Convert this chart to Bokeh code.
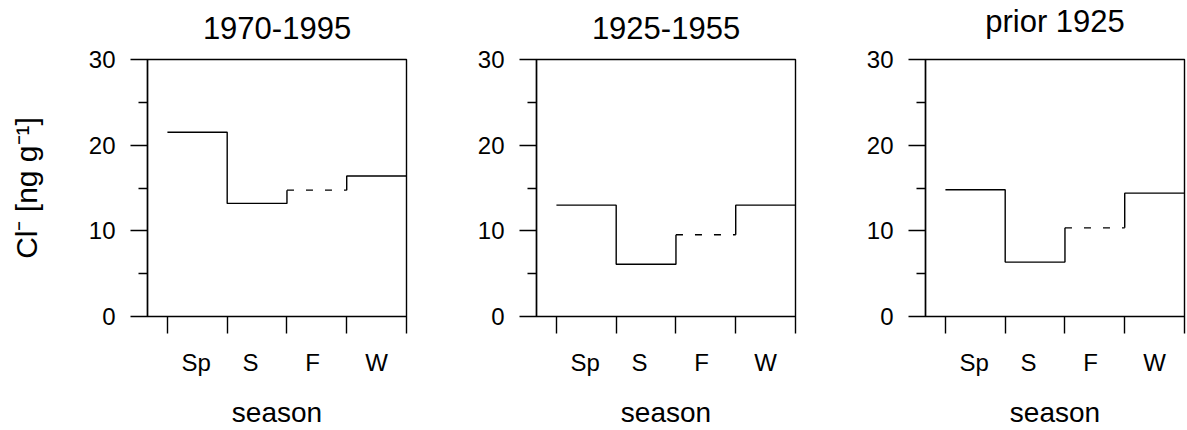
from bokeh.plotting import figure
from bokeh.layouts import row
from bokeh.models import FixedTicker, LinearAxis
from bokeh.embed import file_html
from bokeh.resources import INLINE

# ---- data ----
seasons = ["Sp", "S", "F", "W"]
season_edges = [0, 1, 2, 3, 4]
season_label_pos = [0.48, 1.39, 2.43, 3.5]
titles = ["1970-1995", "1925-1955", "prior 1925"]
cl_1970_1995 = [21.5, 13.2, 14.75, 16.4]
cl_1925_1955 = [13.0, 6.1, 9.55, 13.0]
cl_prior_1925 = [14.8, 6.35, 10.35, 14.4]
y_major = [0, 10, 20, 30]
y_minor = [5, 15, 25]
x_lo, x_hi = -1/3, 4
y_lo, y_hi = 0, 30

FONT = "Liberation Sans"
LW = 1.4
FRAME = 259
TOP = 58
BOTTOM = 113


def make_panel(title, vals, left_border, right_border, ylabel=None):
    p = figure(width=left_border + FRAME + right_border, height=TOP + FRAME + BOTTOM,
               x_range=(x_lo, x_hi), y_range=(y_lo, y_hi),
               output_backend="svg", toolbar_location=None,
               min_border_left=left_border, min_border_right=right_border,
               min_border_top=TOP, min_border_bottom=BOTTOM,
               x_axis_location="below", y_axis_location="left")
    p.title = None
    p.xgrid.visible = False
    p.ygrid.visible = False
    p.outline_line_color = "black"
    p.outline_line_width = LW
    p.background_fill_color = "white"
    p.border_fill_color = "white"

    xa = p.below[0]
    ya = p.left[0]

    # panel title drawn as the label of an otherwise empty axis above the frame
    top_axis = LinearAxis(ticker=FixedTicker(ticks=[]), axis_label=title,
                          axis_line_color=None, major_tick_line_color=None,
                          minor_tick_line_color=None, major_tick_out=0, major_tick_in=0,
                          minor_tick_out=0, minor_tick_in=0,
                          major_label_text_font_size="0px",
                          axis_label_text_font=FONT, axis_label_text_font_size="31px",
                          axis_label_text_font_style="normal",
                          axis_label_text_color="black", axis_label_standoff=21)
    p.add_layout(top_axis, "above")

    xa.ticker = FixedTicker(ticks=season_label_pos, minor_ticks=season_edges)
    xa.major_label_overrides = {pos: s for pos, s in zip(season_label_pos, seasons)}
    xa.major_tick_line_color = None
    xa.major_tick_out = 17
    xa.major_tick_in = 0
    xa.minor_tick_out = 17
    xa.minor_tick_in = 0
    xa.minor_tick_line_color = "black"
    xa.minor_tick_line_width = LW
    xa.axis_line_color = None
    xa.major_label_text_font = FONT
    xa.major_label_text_font_size = "24px"
    xa.major_label_text_color = "black"
    xa.major_label_standoff = 15
    xa.axis_label = "season"
    xa.axis_label_text_font = FONT
    xa.axis_label_text_font_size = "28px"
    xa.axis_label_text_font_style = "normal"
    xa.axis_label_text_color = "black"
    xa.axis_label_standoff = 18

    ya.ticker = FixedTicker(ticks=y_major, minor_ticks=y_minor)
    ya.major_tick_out = 17
    ya.major_tick_in = 0
    ya.minor_tick_out = 9
    ya.minor_tick_in = 0
    ya.major_tick_line_width = LW
    ya.minor_tick_line_width = LW
    ya.major_tick_line_color = "black"
    ya.minor_tick_line_color = "black"
    ya.axis_line_color = "black"
    ya.axis_line_width = LW
    ya.major_label_text_font = FONT
    ya.major_label_text_font_size = "24px"
    ya.major_label_text_color = "black"
    ya.major_label_standoff = 15
    if ylabel:
        ya.axis_label = ylabel
        ya.axis_label_text_font = FONT
        ya.axis_label_text_font_size = "30px"
        ya.axis_label_text_font_style = "normal"
        ya.axis_label_text_color = "black"
        ya.axis_label_standoff = 43

    e = season_edges
    v = vals
    solid_xs = [[e[0], e[1], e[1], e[2], e[2]], [e[3], e[3], e[4]]]
    solid_ys = [[v[0], v[0], v[1], v[1], v[2]], [v[2], v[3], v[3]]]
    p.multi_line(xs=solid_xs, ys=solid_ys, line_color="black", line_width=LW)
    p.line(x=[e[2], e[3]], y=[v[2], v[2]], line_color="black", line_width=LW,
           line_dash="7 12")
    return p


p1 = make_panel(titles[0], cl_1970_1995, 147, 30, ylabel="Cl\u207b [ng g\u207b\u00b9]")
p2 = make_panel(titles[1], cl_1925_1955, 100, 30)
p3 = make_panel(titles[2], cl_prior_1925, 100, 2)

layout = row(p1, p2, p3, spacing=0)
open("out.html", "w").write(file_html(layout, INLINE))
